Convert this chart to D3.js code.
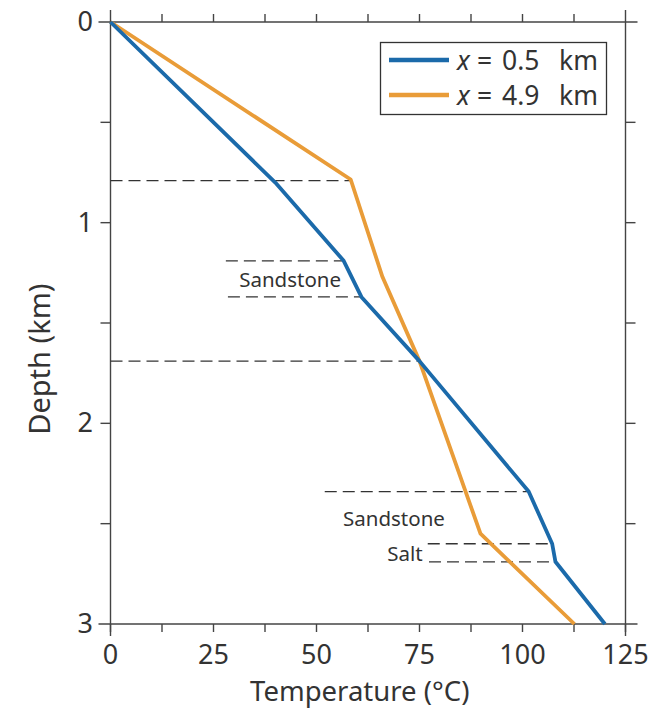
<!DOCTYPE html>
<html>
<head>
<meta charset="utf-8">
<script src="https://cdn.jsdelivr.net/npm/d3@7"></script>
<style>
body { margin: 0; background: #fff; }
svg text { font-family: "Noto Sans", "Open Sans", sans-serif; fill: #333; }
</style>
</head>
<body>
<svg id="chart" width="651" height="709"></svg>
<script>
// temperature (°C) vs depth (km)
const nearProfile = [
    [0, 0], [40, 0.8], [56.6, 1.19], [60.9, 1.37], [75, 1.69],
    [101.5, 2.34], [107.2, 2.6], [108, 2.69], [120, 3]
];
const farProfile = [
    [0, 0], [58.3, 0.785], [66, 1.27], [75, 1.69], [89.8, 2.55], [112.6, 3]
];
const seriesNames = ["x = 0.5 km", "x = 4.9 km"];
const xTicks = [0, 25, 50, 75, 100, 125];
const yTicks = [0, 1, 2, 3];

// dashed layer boundaries: depth, from T, to T
const boundaries = [
    [0.79, 0, 58.3],
    [1.19, 28, 56.6],
    [1.37, 28.5, 60.9],
    [1.69, 0, 75],
    [2.34, 52, 101.5],
    [2.6, 77, 107.2],
    [2.69, 77.3, 108]
];
const layerLabels = [
    ["Sandstone", 43.6, 1.28, "middle"],
    ["Sandstone", 68.8, 2.47, "middle"],
    ["Salt", 75.8, 2.647, "end"]
];

const blue = "#1b6aaa";
const orange = "#e99c38";

const svg = d3.select("#chart");
const pLeft = 110.5, pRight = 625.5, pTop = 22, pBottom = 624;

const x = d3.scaleLinear().domain([0, 125]).range([pLeft, pRight]);
const y = d3.scaleLinear().domain([0, 3]).range([pTop, pBottom]);

const frame = svg.append("g").attr("stroke", "#444").attr("stroke-width", 1.4);
// axis lines overshoot the corners a bit
frame.append("line").attr("x1", pLeft - 12).attr("x2", pRight + 12).attr("y1", pTop).attr("y2", pTop);
frame.append("line").attr("x1", pLeft - 12).attr("x2", pRight + 12).attr("y1", pBottom).attr("y2", pBottom);
frame.append("line").attr("x1", pLeft).attr("x2", pLeft).attr("y1", pTop - 12).attr("y2", pBottom + 12);
frame.append("line").attr("x1", pRight).attr("x2", pRight).attr("y1", pTop - 12).attr("y2", pBottom + 12);

const xMinor = d3.range(0, 125.1, 12.5);
const yMinor = d3.range(0, 3.01, 0.5);

frame.append("g").selectAll("line").data(xMinor).join("line")
    .attr("x1", d => x(d)).attr("x2", d => x(d))
    .attr("y1", pBottom).attr("y2", pBottom + 8);
frame.append("g").selectAll("line").data(xMinor.slice(1, -1)).join("line")
    .attr("x1", d => x(d)).attr("x2", d => x(d))
    .attr("y1", pTop).attr("y2", pTop - 8);
frame.append("g").selectAll("line").data(yMinor.slice(1, -1)).join("line")
    .attr("x1", pLeft).attr("x2", pLeft - 10)
    .attr("y1", d => y(d)).attr("y2", d => y(d));
frame.append("g").selectAll("line").data(yMinor.slice(1, -1)).join("line")
    .attr("x1", pRight).attr("x2", pRight + 10)
    .attr("y1", d => y(d)).attr("y2", d => y(d));

svg.append("g").selectAll("text").data(xTicks).join("text")
    .attr("x", d => x(d)).attr("y", 664)
    .attr("text-anchor", "middle")
    .style("font-size", "27px")
    .text(d => d);

svg.append("g").selectAll("text").data(yTicks).join("text")
    .attr("x", 93).attr("y", d => y(d) + 9)
    .attr("text-anchor", "end")
    .style("font-size", "27px")
    .text(d => d);

svg.append("text")
    .attr("x", x(60.5)).attr("y", 701)
    .attr("text-anchor", "middle")
    .style("font-size", "27.5px")
    .text("Temperature (°C)");

svg.append("text")
    .attr("transform", `translate(50,${y(1.68)}) rotate(-90)`)
    .attr("text-anchor", "middle")
    .style("font-size", "29px")
    .text("Depth (km)");

// layer boundaries
svg.append("g").selectAll("line").data(boundaries).join("line")
    .attr("x1", d => x(d[1])).attr("x2", d => x(d[2]))
    .attr("y1", d => y(d[0])).attr("y2", d => y(d[0]))
    .attr("stroke", "#333").attr("stroke-width", 1.3)
    .attr("stroke-dasharray", "12,6");

svg.append("g").selectAll("text").data(layerLabels).join("text")
    .attr("x", d => x(d[1])).attr("y", d => y(d[2]) + 8)
    .attr("text-anchor", d => d[3])
    .style("font-size", "20.5px")
    .text(d => d[0]);

const line = d3.line().x(d => x(d[0])).y(d => y(d[1]));

svg.append("path").datum(farProfile)
    .attr("d", line).attr("fill", "none")
    .attr("stroke", orange).attr("stroke-width", 3.8)
    .attr("stroke-linejoin", "round");
svg.append("path").datum(nearProfile)
    .attr("d", line).attr("fill", "none")
    .attr("stroke", blue).attr("stroke-width", 3.8)
    .attr("stroke-linejoin", "round");

// legend
const legend = svg.append("g");
legend.append("rect")
    .attr("x", 380.5).attr("y", 42.5).attr("width", 226).attr("height", 72)
    .attr("fill", "#fff").attr("stroke", "#333").attr("stroke-width", 1.3);
[blue, orange].forEach((c, i) => {
    const ly = 60 + i * 35;
    const parts = seriesNames[i].split(" "); // ["x", "=", "0.5", "km"]
    legend.append("line")
        .attr("x1", 389).attr("x2", 449).attr("y1", ly).attr("y2", ly)
        .attr("stroke", c).attr("stroke-width", 4.5);
    const t = legend.append("text")
        .attr("y", ly + 10)
        .style("font-size", "26.5px");
    t.append("tspan").attr("x", 457).style("font-style", "italic").text(parts[0]);
    t.append("tspan").attr("x", 477).text(parts[1]);
    t.append("tspan").attr("x", 502).text(parts[2]);
    t.append("tspan").attr("x", 559).text(parts[3]);
});
</script>
</body>
</html>
